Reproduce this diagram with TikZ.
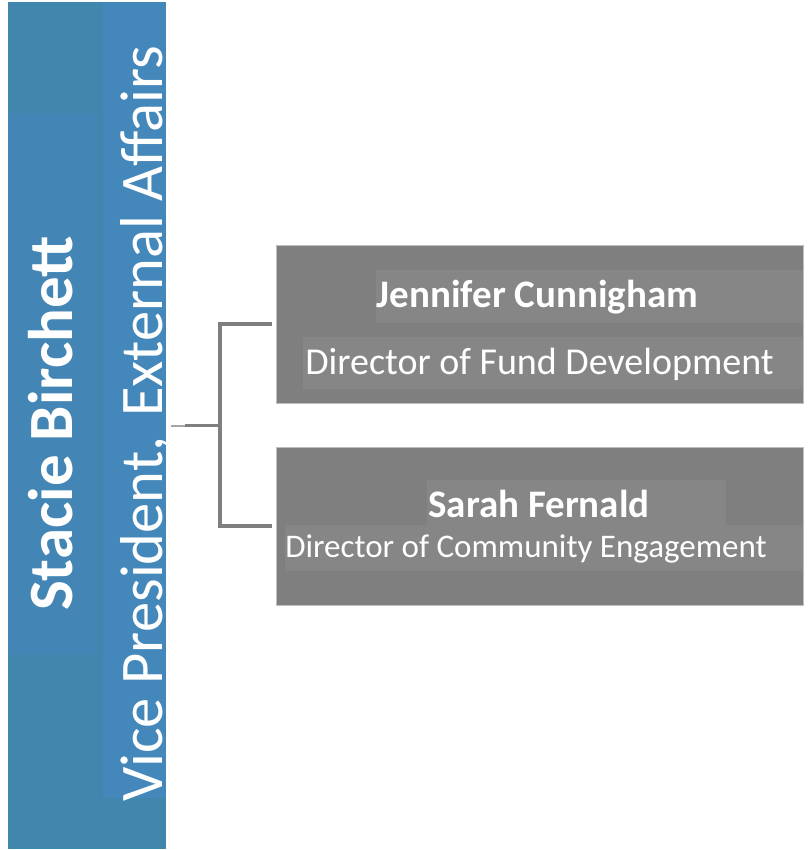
\documentclass[tikz,border=0pt]{standalone}
\usepackage{fontspec}
\setmainfont{Carlito}
\definecolor{barbase}{RGB}{65,135,173}
\definecolor{namebg}{RGB}{67,134,181}
\definecolor{titlebg}{RGB}{68,136,187}
\definecolor{boxgray}{RGB}{127,127,128}
\definecolor{labelgray}{RGB}{134,134,134}
\definecolor{linegray}{RGB}{127,127,127}
\definecolor{stubgray}{RGB}{165,165,165}
\definecolor{edgegray}{RGB}{190,190,190}
\begin{document}
\begin{tikzpicture}[x=1pt,y=-1pt,
  panel/.style={fill=boxgray, draw=edgegray, line width=0.8pt, inner sep=0pt,
                minimum width=527pt, minimum height=158pt},
  whitetext/.style={text=white, inner sep=0pt},
  namefont/.style={font=\fontsize{39}{39}\selectfont\bfseries},
  rolefont/.style={font=\fontsize{38}{38}\selectfont},
  link/.style={draw=linegray, line width=3.2pt},
]
\useasboundingbox (0,0) rectangle (807,850);

% vertical banner for the vice president
\node[fill=barbase, inner sep=0pt, minimum width=158pt, minimum height=847pt] (vp) at (87,425.5) {};
\fill[namebg] (8,113) rectangle (97,655);
\fill[titlebg] (103,2) rectangle (166,798);
\node[whitetext, rotate=90, anchor=base, font=\fontsize{63}{63}\selectfont\bfseries]
  (vpname) at (72,423.5) {Stacie Birchett};
\node[whitetext, rotate=90, anchor=base, font=\fontsize{60.5}{60.5}\selectfont]
  (vptitle) at (162,424) {Vice President,\hspace{0.1em} External Affairs};

% direct reports
\node[panel] (jc) at (539.5,324) {};
\fill[labelgray] (376,270) rectangle (803,323);
\node[whitetext, namefont, anchor=base] (jcname) at (537.5,307) {Jennifer Cunnigham};
\fill[labelgray] (303,337) rectangle (803,389);
\node[whitetext, rolefont, anchor=base] (jcrole) at (539.5,374) {Director of Fund Development};

\node[panel] (sf) at (539.5,526) {};
\fill[labelgray] (427,480) rectangle (726,525);
\node[whitetext, namefont, anchor=base] (sfname) at (539,517) {Sarah Fernald};
\fill[labelgray] (285,525) rectangle (803,571);
\node[whitetext, font=\fontsize{33}{33}\selectfont, anchor=base] (sfrole) at (526,557) {Director of Community Engagement};

% reporting lines
\coordinate (hub) at (220,425.5);
\draw[stubgray, line width=2pt] ([xshift=5pt]vp.east) -- ([xshift=19pt]vp.east);
\draw[link] ([xshift=19pt]vp.east) -- (hub);
\draw[link] (hub) |- ([xshift=-4pt]jc.west);
\draw[link] (hub) |- ([xshift=-4pt]sf.west);
\end{tikzpicture}
\end{document}
